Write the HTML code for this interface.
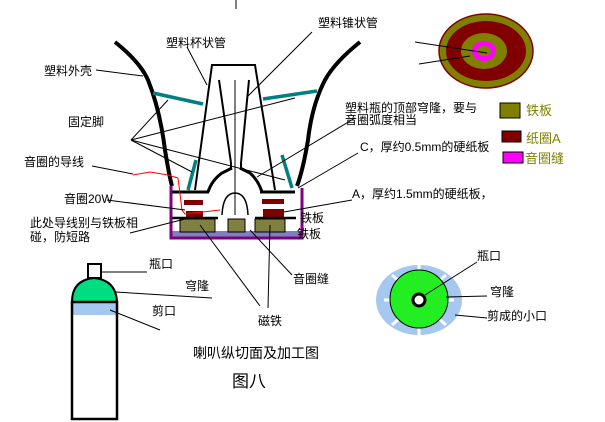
<!DOCTYPE html>
<html><head><meta charset="utf-8"><style>
html,body{margin:0;padding:0;background:#fff;}
svg{display:block;}
text{font-family:"Liberation Sans","Noto Sans CJK SC",sans-serif;font-size:12px;fill:#000;}
</style></head><body>
<svg width="605" height="422" viewBox="0 0 605 422" xmlns="http://www.w3.org/2000/svg">
<line x1="236" y1="0" x2="236" y2="9" stroke="#000"/>
<!-- shell -->
<path d="M115,42 Q140,62 148,80 Q160,110 165,150 Q169,175 172,186" fill="none" stroke="#000" stroke-width="4"/>
<path d="M360,42 Q335,62 325,80 Q312,105 308,140 Q303,170 297,186" fill="none" stroke="#000" stroke-width="4"/>
<!-- cup tube -->
<polyline points="195,190 212,65 255,65 275,190" fill="none" stroke="#000" stroke-width="2"/>
<polyline points="219,80 231,163 231,170" fill="none" stroke="#000" stroke-width="2"/>
<polyline points="249,80 241,163 241,170" fill="none" stroke="#000" stroke-width="2"/>
<line x1="235" y1="80" x2="235" y2="215" stroke="#000"/>
<!-- dome -->
<path d="M232,168 L222,173 Q212,180 208,192" fill="none" stroke="#000" stroke-width="3"/>
<path d="M240,168 L250,173 Q258,180 262,192" fill="none" stroke="#000" stroke-width="3"/>
<!-- teal feet -->
<g stroke="#008080" stroke-width="3.5">
<line x1="153" y1="93" x2="203" y2="104"/>
<line x1="263" y1="99" x2="317" y2="91"/>
<line x1="196" y1="160" x2="188" y2="190"/>
<line x1="282" y1="155" x2="292" y2="188"/>
</g>
<!-- base -->
<rect x="172" y="231" width="129" height="7" fill="#8080c0"/>
<polyline points="171,186 171,238 302,238 302,188" fill="none" stroke="#800080" stroke-width="3"/>
<line x1="172" y1="192" x2="209" y2="192" stroke="#000" stroke-width="3"/>
<line x1="260" y1="192" x2="295" y2="192" stroke="#000" stroke-width="3"/>
<rect x="184" y="200" width="19" height="5" fill="#800000"/>
<rect x="262" y="199" width="22" height="5" fill="#800000"/>
<rect x="186" y="211" width="17" height="6" fill="#800000"/>
<rect x="263" y="209" width="21" height="8" fill="#800000"/>
<line x1="172" y1="218" x2="218" y2="218" stroke="#000" stroke-width="2.5"/>
<line x1="255" y1="218" x2="296" y2="218" stroke="#000" stroke-width="2.5"/>
<rect x="180" y="219" width="35" height="13" fill="#808040" stroke="#000"/>
<rect x="228" y="219" width="17" height="13" fill="#808040" stroke="#000"/>
<rect x="255" y="219" width="30" height="13" fill="#808040" stroke="#000"/>
<path d="M222,215 Q223,193 235,193 Q247,193 248,215" fill="none" stroke="#000" stroke-width="1.5"/>
<polyline points="133,175 150,172 168,175 178,178 182,210 185,214 220,210" fill="none" stroke="#f00" stroke-width="1"/>
<!-- leader lines -->
<g stroke="#000" stroke-width="1" fill="none">
<line x1="96" y1="70" x2="143" y2="76"/>
<line x1="187" y1="47" x2="207" y2="85"/>
<line x1="312" y1="32" x2="247" y2="97"/>
<line x1="131" y1="140" x2="168" y2="100"/>
<line x1="131" y1="140" x2="295" y2="98"/>
<line x1="131" y1="140" x2="192" y2="172"/>
<line x1="131" y1="140" x2="285" y2="180"/>
<line x1="92" y1="166" x2="133" y2="174"/>
<line x1="107" y1="200" x2="185" y2="210"/>
<line x1="130" y1="233" x2="185" y2="219"/>
<line x1="355" y1="118" x2="257" y2="177"/>
<line x1="358" y1="153" x2="298" y2="188"/>
<line x1="352" y1="200" x2="284" y2="212"/>
<line x1="200" y1="225" x2="260" y2="306"/>
<line x1="270" y1="225" x2="268" y2="308"/>
<line x1="250" y1="230" x2="292" y2="275"/>
</g>
<!-- target ellipse -->
<ellipse cx="486" cy="51" rx="47" ry="37" fill="#808000" stroke="#800000" stroke-width="1.5"/>
<ellipse cx="486" cy="51" rx="40" ry="30" fill="#800000"/>
<ellipse cx="484" cy="51" rx="23" ry="18" fill="#808000"/>
<ellipse cx="484" cy="51" rx="12" ry="10" fill="#ff00ff"/>
<ellipse cx="484" cy="51" rx="7" ry="5" fill="#808000"/>
<line x1="415" y1="42" x2="487" y2="53" stroke="#000"/>
<line x1="419" y1="64" x2="470" y2="56" stroke="#000"/>
<!-- legend -->
<rect x="500" y="103" width="20" height="15" fill="#808000" stroke="#000"/>
<rect x="502" y="131" width="19" height="11" fill="#800000" stroke="#000"/>
<rect x="503" y="152" width="20" height="11" fill="#ff00ff" stroke="#000"/>
<text x="526" y="115" style="fill:#808000;font-size:13px">铁板</text>
<text x="526" y="143" style="fill:#808000;font-size:13px">纸圈A</text>
<text x="525" y="163" style="fill:#808000;font-size:13px">音圈缝</text>
<!-- bottle -->
<rect x="88" y="264" width="13" height="14" fill="#fff" stroke="#000" stroke-width="2"/>
<path d="M72,302 Q72,280 94,278 Q116,280 117,302 Z" fill="#00dd80" stroke="#000" stroke-width="2"/>
<rect x="72" y="302" width="45" height="13" fill="#a6c8f0"/>
<rect x="72" y="302" width="45" height="117" fill="none" stroke="#000" stroke-width="2.5"/>
<g stroke="#000" stroke-width="1" fill="none">
<line x1="101" y1="272" x2="147" y2="272"/>
<line x1="115" y1="292" x2="212" y2="298"/>
<line x1="110" y1="310" x2="160" y2="330"/>
</g>
<!-- dish -->
<ellipse cx="419" cy="300" rx="43" ry="35" fill="#a6c8f0"/>
<g stroke="#fff" stroke-width="3">
<line x1="419" y1="265" x2="419" y2="275"/><line x1="384" y1="300" x2="394" y2="300"/>
<line x1="454" y1="300" x2="444" y2="300"/><line x1="419" y1="335" x2="419" y2="325"/>
<line x1="392" y1="275" x2="400" y2="282"/><line x1="446" y1="275" x2="438" y2="282"/>
<line x1="392" y1="325" x2="400" y2="318"/><line x1="446" y1="325" x2="438" y2="318"/>
</g>
<circle cx="419" cy="299" r="29" fill="#22ee22" stroke="#000"/>
<circle cx="419" cy="300" r="6" fill="#fff" stroke="#000" stroke-width="3"/>
<g stroke="#000" stroke-width="1">
<line x1="425" y1="295" x2="477" y2="262"/>
<line x1="446" y1="297" x2="487" y2="296"/>
<line x1="455" y1="315" x2="487" y2="318"/>
</g>
<!-- text -->
<text x="318" y="27">塑料锥状管</text>
<text x="166" y="47">塑料杯状管</text>
<text x="44" y="75">塑料外壳</text>
<text x="68" y="126">固定脚</text>
<text x="24" y="166">音圈的导线</text>
<text x="64" y="203">音圈20W</text>
<text x="30" y="227">此处导线别与铁板相</text>
<text x="30" y="241">碰，防短路</text>
<text x="300" y="222">铁板</text>
<text x="297" y="238">铁板</text>
<text x="345" y="112">塑料瓶的顶部穹隆，要与</text>
<text x="345" y="124">音圈弧度相当</text>
<text x="360" y="151">C，厚约0.5mm的硬纸板</text>
<text x="352" y="198">A，厚约1.5mm的硬纸板，</text>
<text x="149" y="268">瓶口</text>
<text x="185" y="290">穹隆</text>
<text x="152" y="315">剪口</text>
<text x="293" y="283">音圈缝</text>
<text x="258" y="325">磁铁</text>
<text x="477" y="260">瓶口</text>
<text x="490" y="296">穹隆</text>
<text x="487" y="320">剪成的小口</text>
<text x="193" y="358" style="font-size:14px">喇叭纵切面及加工图</text>
<text x="232" y="387" style="font-size:17px">图八</text>
</svg>
</body></html>
